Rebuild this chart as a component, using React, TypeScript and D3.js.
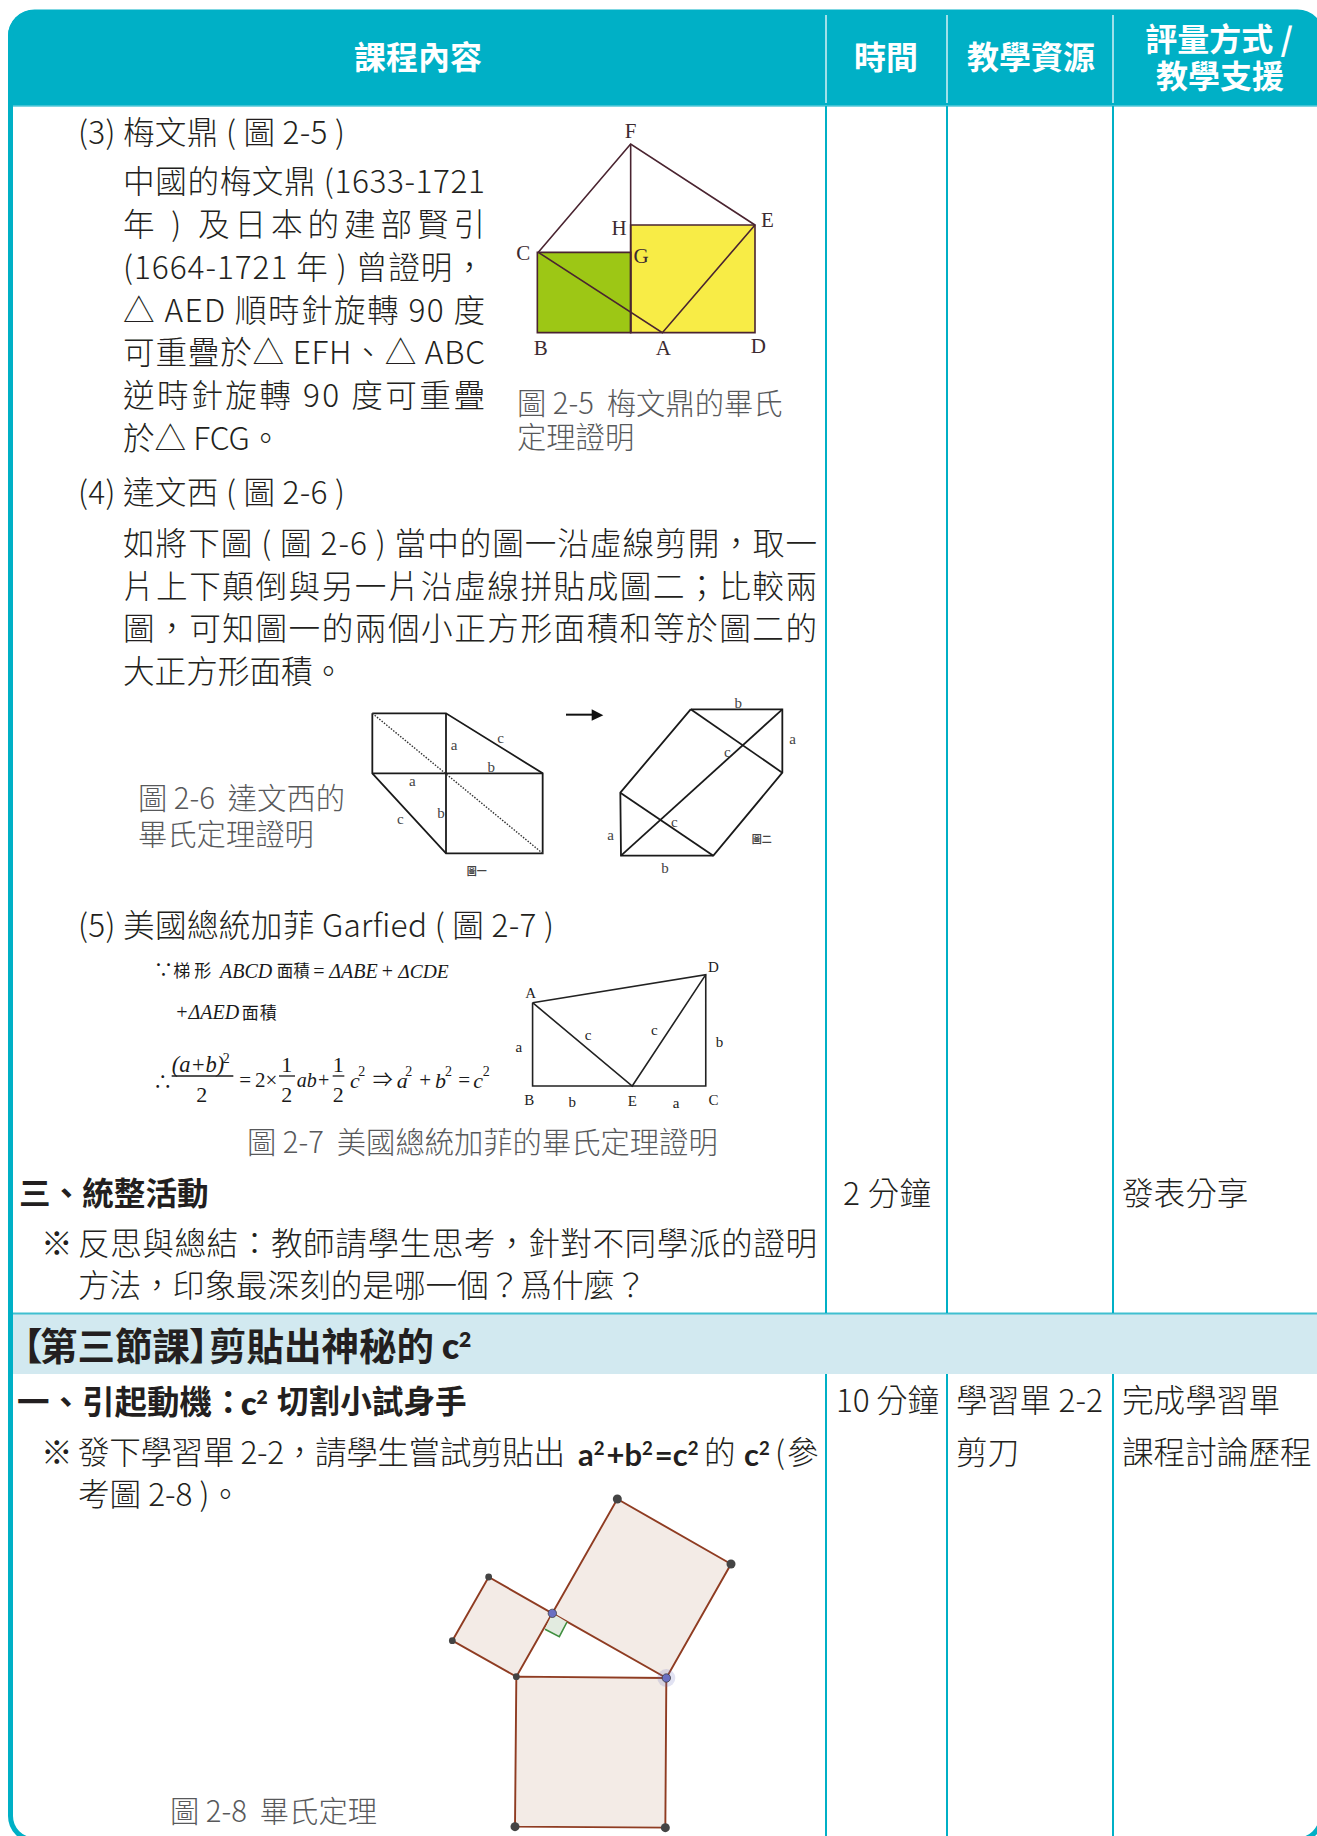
import { useEffect, useRef } from "react";
import * as d3 from "d3";

type Pt = [number, number];

// Text of the table
const headers = ["課程內容", "時間", "教學資源"];
const header4 = ["評量方式 /", "教學支援"];
const item3 = "(3) 梅文鼎 ( 圖 2-5 )";
const item3Lines = [
  "中國的梅文鼎 (1633-1721",
  "年 ) 及日本的建部賢引",
  "(1664-1721 年 ) 曾證明，",
  "△ AED 順時針旋轉 90 度",
  "可重疊於△ EFH、△ ABC",
  "逆時針旋轉 90 度可重疊",
  "於△ FCG。",
];
const caption5 = ["圖 2-5  梅文鼎的畢氏", "定理證明"];
const item4 = "(4) 達文西 ( 圖 2-6 )";
const item4Lines = [
  "如將下圖 ( 圖 2-6 ) 當中的圖一沿虛線剪開，取一",
  "片上下顛倒與另一片沿虛線拼貼成圖二；比較兩",
  "圖，可知圖一的兩個小正方形面積和等於圖二的",
  "大正方形面積。",
];
const caption6 = ["圖 2-6  達文西的", "畢氏定理證明"];
const item5 = "(5) 美國總統加菲 Garfied ( 圖 2-7 )";
const caption7 = "圖 2-7  美國總統加菲的畢氏定理證明";
const caption8 = "圖 2-8  畢氏定理";

// Figure 2-5, in picture units
const fig5Green: Pt[] = [[112, 457], [392, 457], [392, 698], [112, 698]];
const fig5Yellow: Pt[] = [[392, 375], [765, 375], [765, 698], [392, 698]];
const fig5Lines: Pt[][] = [
  [[115, 457], [392, 132], [765, 375]],
  [[392, 132], [392, 698]],
  [[115, 457], [487, 698], [765, 375]],
];
const fig5Names = ["F", "E", "H", "G", "C", "B", "A", "D"];
const fig5NamePts: Pt[] = [[392, 90], [802, 358], [357, 382], [423, 466], [70, 457], [122, 740], [490, 740], [775, 734]];

// Figure 2-6, in picture units
const fig6Lines: Pt[][] = [
  [[97, 100], [318, 100], [608, 280], [608, 520], [318, 520], [97, 280], [97, 100]],
  [[318, 100], [318, 520]],
  [[97, 280], [608, 280]],
  [[1052, 88], [1327, 88], [1327, 278], [1120, 527], [843, 527], [841, 338], [1052, 88]],
  [[1052, 88], [1327, 278]],
  [[841, 338], [1120, 527]],
  [[1327, 88], [843, 527]],
];
const fig6Dotted: Pt[] = [[97, 100], [608, 520]];
const fig6Arrow: Pt[] = [[678, 104], [760, 104]];
const fig6ArrowHead: Pt[] = [[755, 88], [790, 106], [755, 122]];
const fig6Names = ["a", "c", "b", "a", "c", "b", "圖一", "b", "a", "c", "c", "a", "b", "圖二"];
const fig6NamePts: Pt[] = [[342, 192], [482, 172], [454, 260], [217, 300], [181, 415], [303, 398], [410, 572], [1195, 68], [1358, 175], [1162, 213], [1003, 425], [812, 462], [975, 563], [1265, 477]];

// Figure 2-7, in picture units
const fig7Lines: Pt[][] = [
  [[1002, 308], [1433, 224], [1433, 558], [1002, 558], [1002, 308]],
  [[1002, 308], [1250, 558], [1433, 224]],
];
const fig7Names = ["D", "A", "a", "c", "c", "b", "B", "b", "E", "a", "C"];
const fig7NamePts: Pt[] = [[1452, 198], [997, 278], [968, 440], [1140, 403], [1305, 388], [1467, 425], [994, 598], [1101, 605], [1250, 600], [1359, 608], [1452, 598]];

// Figure 2-8, in picture units
const fig8Small: Pt[] = [[259, 590], [67, 482], [176, 291], [367, 400]];
const fig8Big: Pt[] = [[367, 400], [562, 57], [903, 252], [709, 594]];
const fig8Bottom: Pt[] = [[259, 590], [709, 594], [706, 1043], [255, 1040]];
const fig8RightFill: Pt[] = [[367, 400], [345, 448], [388, 470], [411, 426]];
const fig8RightMark: Pt[] = [[345, 448], [388, 470], [411, 426]];
const fig8Dark: Pt[] = [[562, 57], [903, 252], [706, 1043], [255, 1040]];
const fig8DarkSmall: Pt[] = [[259, 590], [67, 482], [176, 291]];
const fig8Blue: Pt[] = [[367, 400], [709, 594]];

const TEAL = "#00b0c6";
const INK = "#231f20";
const GREY = "#58595b";
const CJK = '"Noto Sans CJK TC", "Noto Sans", sans-serif';
const SERIF = '"Liberation Serif", serif';
const ROUND = 'Lato, "Noto Sans", sans-serif';

const App = () => {
  const svgRef = useRef<SVGSVGElement>(null);

  useEffect(() => {
    const svg = d3.select(svgRef.current);
    svg.selectAll("*").remove();

    const width = 1317;
    const height = 1836;
    const colX = [826, 947, 1113];

    const defs = svg.append("defs");
    defs
      .append("clipPath")
      .attr("id", "card")
      .append("rect")
      .attr("x", 8)
      .attr("y", 10)
      .attr("width", 1315)
      .attr("height", 1832)
      .attr("rx", 26);

    const card = svg.append("g").attr("clip-path", "url(#card)");
    card.append("rect").attr("x", 8).attr("y", 10).attr("width", 1315).attr("height", 1832).attr("fill", "#fff");
    card.append("rect").attr("x", 8).attr("y", 10).attr("width", 1315).attr("height", 96).attr("fill", TEAL);
    card.append("line").attr("x1", 8).attr("x2", width).attr("y1", 106).attr("y2", 106).attr("stroke", "#55c8d8").attr("stroke-width", 1.5);

    // Lesson band
    card.append("rect").attr("x", 8).attr("y", 1313).attr("width", 1315).attr("height", 61).attr("fill", "#d2e9f0");
    card.append("line").attr("x1", 8).attr("x2", width).attr("y1", 1313.5).attr("y2", 1313.5).attr("stroke", "#3fbfd0").attr("stroke-width", 2);

    // Column rules
    colX.forEach((x) => {
      svg.append("line").attr("x1", x).attr("x2", x).attr("y1", 15).attr("y2", 103).attr("stroke", "#d5f0f4").attr("stroke-width", 1.5);
      svg.append("line").attr("x1", x).attr("x2", x).attr("y1", 106).attr("y2", 1313).attr("stroke", TEAL).attr("stroke-width", 2);
      svg.append("line").attr("x1", x).attr("x2", x).attr("y1", 1374).attr("y2", height).attr("stroke", TEAL).attr("stroke-width", 2);
    });

    // Card border, its right and bottom sides fall off the page
    svg
      .append("rect")
      .attr("x", 10.5)
      .attr("y", 12)
      .attr("width", 1311)
      .attr("height", 1828)
      .attr("rx", 24)
      .attr("fill", "none")
      .attr("stroke", TEAL)
      .attr("stroke-width", 5);

    const text = (
      s: string,
      x: number,
      cy: number,
      opts: { size?: number; weight?: number; fill?: string; anchor?: string; fit?: number; family?: string; style?: string } = {}
    ) => {
      const size = opts.size ?? 31.6;
      const t = svg
        .append("text")
        .attr("x", x)
        .attr("y", cy + size * 0.385)
        .attr("font-family", opts.family ?? CJK)
        .attr("font-size", size)
        .attr("font-weight", opts.weight ?? 300)
        .attr("font-style", opts.style ?? "normal")
        .attr("fill", opts.fill ?? INK)
        .attr("text-anchor", opts.anchor ?? "start")
        .style("white-space", "pre");
      // "^2" marks a superscript 2
      s.split(/(\^\w)/).forEach((part) => {
        if (part.startsWith("^")) {
          t.append("tspan").attr("dy", -size * 0.36).attr("font-size", size * 0.6).text(part.slice(1));
          t.append("tspan").attr("dy", size * 0.36).text("\u200a");
        } else if (part) {
          t.append("tspan").text(part);
        }
      });
      if (opts.fit) t.attr("textLength", opts.fit).attr("lengthAdjust", "spacing");
      return t;
    };

    // Header
    const headerCx = [418, 886, 1031];
    headers.forEach((h, i) => {
      text(h, headerCx[i], 57, { size: 32, weight: 700, fill: "#fff", anchor: "middle" });
    });
    text(header4[0], 1219, 39, { size: 32, weight: 700, fill: "#fff", anchor: "middle" });
    text(header4[1], 1220, 76, { size: 32, weight: 700, fill: "#fff", anchor: "middle" });

    // Item (3)
    text(item3, 78, 132, { fit: 267 });
    const item3Y = d3.scaleLinear().domain([0, 6]).range([181, 438]);
    item3Lines.forEach((l, i) => {
      text(l, 123, item3Y(i), { fit: i === 6 ? undefined : 362 });
    });
    caption5.forEach((l, i) => text(l, 517, 403 + i * 34, { size: 29.3, fill: GREY }));

    // Item (4)
    text(item4, 78, 492, { fit: 267 });
    const item4Y = d3.scaleLinear().domain([0, 3]).range([543, 671]);
    item4Lines.forEach((l, i) => {
      text(l, 123, item4Y(i), { fit: i === 3 ? undefined : 694 });
    });
    caption6.forEach((l, i) => text(l, 138, 798 + i * 36, { size: 29.3, fill: GREY }));

    // Item (5)
    text(item5, 78, 925, { fit: 476 });
    text(caption7, 247, 1142, { size: 29.3, fill: GREY });

    // Section 三
    text("三、統整活動", 19, 1193, { size: 31.6, weight: 700 });
    text("2 分鐘", 843, 1193, { fit: 88 });
    text("發表分享", 1122, 1193);
    text("※", 41, 1243);
    text("反思與總結：教師請學生思考，針對不同學派的證明", 78, 1243, { fit: 739 });
    text("方法，印象最深刻的是哪一個？爲什麼？", 78, 1285);

    // Lesson three
    const bandOpts = { size: 37.5, weight: 700 };
    text("【", 5, 1346, bandOpts);
    text("第三節課", 40, 1346, bandOpts);
    text("】", 189, 1346, bandOpts);
    text("剪貼出神秘的", 209, 1346, bandOpts);
    text("c^2", 442, 1346, { size: 35, weight: 800, family: ROUND });

    text("一、引起動機：", 17, 1401, { size: 32.5, weight: 700 });
    text("c^2", 241, 1403, { size: 32, weight: 800, family: ROUND });
    text("切割小試身手", 277, 1401, { size: 31.6, weight: 700 });
    text("10 分鐘", 836, 1400, { fit: 103 });
    text("學習單 2-2", 956, 1400, { fit: 147 });
    text("完成學習單", 1122, 1400);
    text("剪刀", 956, 1452);
    text("課程討論歷程", 1122, 1452);
    text("※", 41, 1452);
    text("發下學習單 2-2，請學生嘗試剪貼出", 78, 1452, { fit: 487 });
    text("a^2+b^2=c^2", 578, 1454, { size: 31, weight: 700, family: ROUND });
    text("的", 704, 1452);
    text("c^2", 744, 1454, { size: 31, weight: 700, family: ROUND });
    text("(", 775, 1452);
    text("參", 787, 1452);
    text("考圖 2-8 )。", 78, 1494);
    text(caption8, 170, 1811, { size: 29.3, fill: GREY });

    const line = d3.line();

    // Figure 2-5
    const x5 = d3.scaleLinear().domain([0, 900]).range([500, 800]);
    const y5 = d3.scaleLinear().domain([0, 810]).range([100, 370]);
    const map5 = (p: Pt): Pt => [x5(p[0]), y5(p[1])];
    svg.append("path").attr("d", line(fig5Green.map(map5)) + "Z").attr("fill", "#9dc715");
    svg.append("path").attr("d", line(fig5Yellow.map(map5)) + "Z").attr("fill", "#f8ec46");
    [...fig5Lines, fig5Green, fig5Yellow].forEach((pts, i) => {
      svg.append("path").attr("d", line(pts.map(map5)) + (i > 2 ? "Z" : "")).attr("fill", "none").attr("stroke", "#4a2430").attr("stroke-width", 1.6);
    });
    fig5Names.forEach((n, i) => {
      const p = map5(fig5NamePts[i]);
      text(n, p[0], p[1], { size: 21, family: SERIF, weight: 400, fill: "#3c2a30", anchor: "middle" });
    });

    // Figure 2-6
    const x6 = d3.scaleLinear().domain([0, 480 * 3]).range([340, 820]);
    const y6 = d3.scaleLinear().domain([0, 220 * 3]).range([680, 900]);
    const map6 = (p: Pt): Pt => [x6(p[0]), y6(p[1])];
    fig6Lines.forEach((pts) => {
      svg.append("path").attr("d", line(pts.map(map6))).attr("fill", "none").attr("stroke", "#1a1a1a").attr("stroke-width", 1.8);
    });
    svg.append("path").attr("d", line(fig6Dotted.map(map6))).attr("fill", "none").attr("stroke", "#333").attr("stroke-width", 1.4).attr("stroke-dasharray", "1.5 1.5");
    svg.append("path").attr("d", line(fig6Arrow.map(map6))).attr("fill", "none").attr("stroke", "#111").attr("stroke-width", 2);
    svg.append("path").attr("d", line(fig6ArrowHead.map(map6)) + "Z").attr("fill", "#111");
    fig6Names.forEach((n, i) => {
      const p = map6(fig6NamePts[i]);
      text(n, p[0], p[1], { size: n.length > 1 ? 10 : 15, family: n.length > 1 ? CJK : SERIF, weight: n.length > 1 ? 700 : 400, fill: "#444", anchor: "middle" });
    });

    // Figure 2-7
    const x7 = d3.scaleLinear().domain([0, 1568]).range([130, 760]);
    const y7 = d3.scaleLinear().domain([0, 810]).range([900, 1170]);
    const map7 = (p: Pt): Pt => [x7(p[0]), y7(p[1])];
    fig7Lines.forEach((pts) => {
      svg.append("path").attr("d", line(pts.map(map7))).attr("fill", "none").attr("stroke", "#222").attr("stroke-width", 1.6);
    });
    fig7Names.forEach((n, i) => {
      const p = map7(fig7NamePts[i]);
      text(n, p[0], p[1], { size: 15, family: SERIF, weight: 400, fill: "#222", anchor: "middle" });
    });

    // Proof formula next to figure 2-7, placed in the picture's own units
    const xm = d3.scaleLinear().domain([0, 1110]).range([130, 500]);
    const ym = d3.scaleLinear().domain([0, 510]).range([950, 1120]);
    const math = (s: string, zx: number, zy: number, size: number, style = "normal", fit?: number, anchor = "start") => {
      text(s, xm(zx), ym(zy), { size, family: SERIF + ", " + CJK, weight: 400, fill: "#1a1a1a", style, anchor, fit });
    };
    const rule = (z0: number, z1: number) => {
      svg.append("path").attr("d", line([[xm(z0), ym(378)], [xm(z1), ym(378)]])).attr("stroke", "#1a1a1a").attr("stroke-width", 1.3);
    };
    math("∵", 72, 60, 19);
    math("梯形", 130, 62, 17, "normal", 38);
    math("ABCD", 270, 60, 20, "italic");
    math("面積", 440, 62, 16.5);
    math("=", 550, 60, 20);
    math("ΔABE", 598, 60, 20, "italic");
    math("+", 755, 60, 20);
    math("ΔCDE", 805, 60, 19.5, "italic");
    math("+ΔAED", 135, 185, 20, "italic");
    math("面積", 335, 187, 17, "normal", 35);
    math("∴", 70, 395, 19);
    math("(a+b)", 125, 340, 22.5, "italic");
    math("2", 278, 322, 14);
    rule(125, 310);
    math("2", 215, 432, 22, "normal", undefined, "middle");
    math("=", 328, 388, 21);
    math("2×", 375, 388, 21);
    math("1", 470, 340, 22, "normal", undefined, "middle");
    rule(447, 495);
    math("2", 470, 432, 22, "normal", undefined, "middle");
    math("ab+", 500, 388, 20, "italic");
    math("1", 625, 340, 22, "normal", undefined, "middle");
    rule(608, 643);
    math("2", 625, 432, 22, "normal", undefined, "middle");
    math("c", 660, 388, 22, "italic");
    math("2", 685, 362, 14);
    math("⇒", 728, 388, 20);
    math("a", 800, 388, 22, "italic");
    math("2", 826, 362, 14);
    math("+", 868, 388, 21);
    math("b", 915, 388, 22, "italic");
    math("2", 945, 362, 14);
    math("=", 985, 388, 21);
    math("c", 1030, 388, 22, "italic");
    math("2", 1058, 362, 14);

    // Figure 2-8
    const x8 = d3.scaleLinear().domain([0, 990]).range([430, 760]);
    const y8 = d3.scaleLinear().domain([0, 1068]).range([1480, 1836]);
    const map8 = (p: Pt): Pt => [x8(p[0]), y8(p[1])];
    [fig8Small, fig8Big, fig8Bottom].forEach((pts) => {
      svg.append("path").attr("d", line(pts.map(map8)) + "Z").attr("fill", "#f3ebe6").attr("stroke", "#8f3c22").attr("stroke-width", 1.9);
    });
    svg.append("path").attr("d", line(fig8RightFill.map(map8)) + "Z").attr("fill", "#e2ebe0");
    svg.append("path").attr("d", line(fig8RightMark.map(map8))).attr("fill", "none").attr("stroke", "#3f8f3f").attr("stroke-width", 1.6);
    svg.append("circle").attr("cx", x8(709)).attr("cy", y8(594)).attr("r", 9).attr("fill", "#6b6fc0").attr("opacity", 0.2);
    fig8Dark.forEach((p) => {
      const m = map8(p);
      svg.append("circle").attr("cx", m[0]).attr("cy", m[1]).attr("r", 4.5).attr("fill", "#444");
    });
    fig8DarkSmall.forEach((p) => {
      const m = map8(p);
      svg.append("circle").attr("cx", m[0]).attr("cy", m[1]).attr("r", 3.4).attr("fill", "#444");
    });
    fig8Blue.forEach((p) => {
      const m = map8(p);
      svg.append("circle").attr("cx", m[0]).attr("cy", m[1]).attr("r", 4.2).attr("fill", "#6a6fc2").attr("stroke", "#333").attr("stroke-width", 0.7);
    });
  }, []);

  return (
    <svg
      ref={svgRef}
      width={1317}
      height={1836}
      style={{ position: "absolute", left: 0, top: 0, display: "block" }}
    ></svg>
  );
};

export default App;
